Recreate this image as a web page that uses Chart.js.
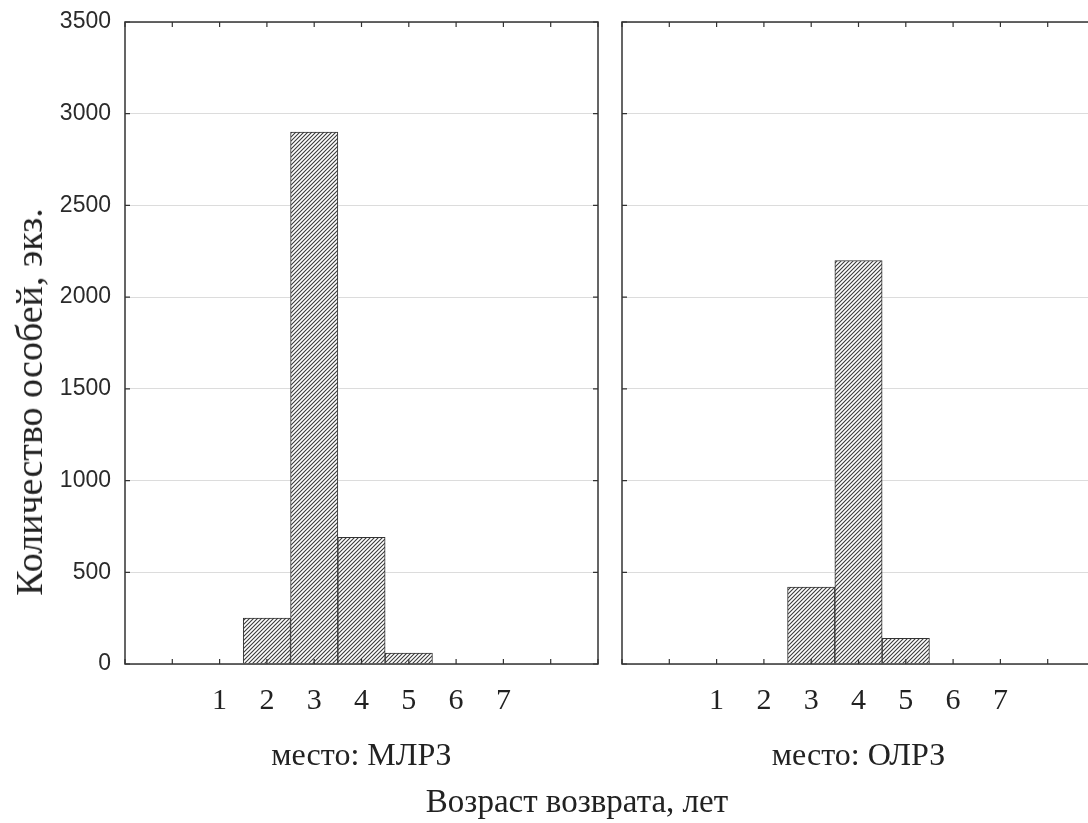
<!DOCTYPE html>
<html>
<head>
<meta charset="utf-8">
<script src="https://cdn.jsdelivr.net/npm/chart.js@4"></script>
<style>
  html,body{margin:0;padding:0;background:#fff;overflow:hidden;width:1088px;height:823px;}
  #left{position:absolute;left:0;top:0;}
  #right{position:absolute;left:610px;top:0;}
  .ytitle{position:absolute;left:29px;top:402px;transform:translate(-50%,-50%) rotate(-90deg);
    font-family:"Liberation Serif",serif;font-size:38px;color:#222;white-space:nowrap;}
  .xtitle{position:absolute;left:577px;top:801px;transform:translate(-50%,-50%);
    font-family:"Liberation Serif",serif;font-size:33px;color:#222;white-space:nowrap;}
</style>
</head>
<body>
<canvas id="left" width="610" height="823"></canvas>
<canvas id="right" width="490" height="823"></canvas>
<div class="ytitle">Количество особей, экз.</div>
<div class="xtitle">Возраст возврата, лет</div>
<script>
// Данные (возраст возврата)
const ages=[1,2,3,4,5,6,7];
const mlrz=[0,250,2900,690,60,0,0];
const olrz=[0,0,420,2200,140,0,0];
const yTicks=[0,500,1000,1500,2000,2500,3000,3500];

// штриховка столбцов
function hatch(){
  const c=document.createElement('canvas');c.width=4;c.height=4;
  const g=c.getContext('2d');
  g.fillStyle='#fff';g.fillRect(0,0,4,4);
  g.strokeStyle='#3a3a3a';g.lineWidth=1.1;
  g.beginPath();
  g.moveTo(0,4);g.lineTo(4,0);
  g.moveTo(-1,1);g.lineTo(1,-1);
  g.moveTo(3,5);g.lineTo(5,3);
  g.stroke();
  return g.createPattern(c,'repeat');
}

// рамка и внутренние засечки
const frame={
  id:'frame',
  afterDatasetsDraw(chart){
    const {ctx,chartArea:{left,right,top,bottom},scales:{x,y}}=chart;
    ctx.save();
    ctx.strokeStyle='#333';ctx.lineWidth=1.5;
    ctx.strokeRect(left,top,right-left,bottom-top);
    ctx.lineWidth=1.2;
    ctx.beginPath();
    y.ticks.forEach(t=>{
      const py=y.getPixelForValue(t.value);
      ctx.moveTo(left,py);ctx.lineTo(left+5,py);
      ctx.moveTo(right,py);ctx.lineTo(right-5,py);
    });
    x.ticks.forEach(t=>{
      const px=x.getPixelForValue(t.value);
      ctx.moveTo(px,top);ctx.lineTo(px,top+5);
      ctx.moveTo(px,bottom);ctx.lineTo(px,bottom-5);
    });
    ctx.stroke();
    ctx.restore();
  }
};

function makeChart(id,values,title,showY){
  const pat=hatch();
  return new Chart(document.getElementById(id),{
    type:'bar',
    data:{datasets:[{
      data:ages.map((a,i)=>({x:a,y:values[i]})),
      backgroundColor:pat,
      borderColor:'#333',
      borderWidth:1,
      barPercentage:1,
      categoryPercentage:1
    }]},
    options:{
      responsive:false,
      animation:false,
      layout:{padding:showY?{top:22,right:12,left:0,bottom:0}:{top:22,right:5,left:0,bottom:0}},
      plugins:{legend:{display:false},tooltip:{enabled:false}},
      scales:{
        x:{
          type:'linear',min:-1,max:9,offset:false,
          grid:{display:false,drawTicks:false},
          border:{display:false},
          afterBuildTicks(s){s.ticks=[-1,0,1,2,3,4,5,6,7,8,9].map(v=>({value:v}));},
          ticks:{
            autoSkip:false,maxRotation:0,padding:19,color:'#222',
            font:{family:'Liberation Serif',size:30},
            callback:v=>ages.includes(v)?String(v):''
          },
          title:{display:true,text:title,color:'#222',
            font:{family:'Liberation Serif',size:32},padding:{top:0,bottom:47}},
          afterFit(s){s.height=159;s.paddingLeft=0;s.paddingRight=0;}
        },
        y:{
          min:0,max:3500,
          afterBuildTicks(s){s.ticks=yTicks.map(v=>({value:v}));},
          grid:{color:'#dcdcdc',lineWidth:1,drawTicks:false},
          border:{display:false},
          ticks:{display:showY,padding:14,color:'#2a2a2a',
            font:{family:'Liberation Sans',size:23},
            callback:v=>String(v)},
          afterFit(s){s.width=showY?125:12;s.paddingTop=0;s.paddingBottom=0;}
        }
      }
    },
    plugins:[frame]
  });
}

makeChart('left',mlrz,'место: МЛРЗ',true);
makeChart('right',olrz,'место: ОЛРЗ',false);
</script>
</body>
</html>
